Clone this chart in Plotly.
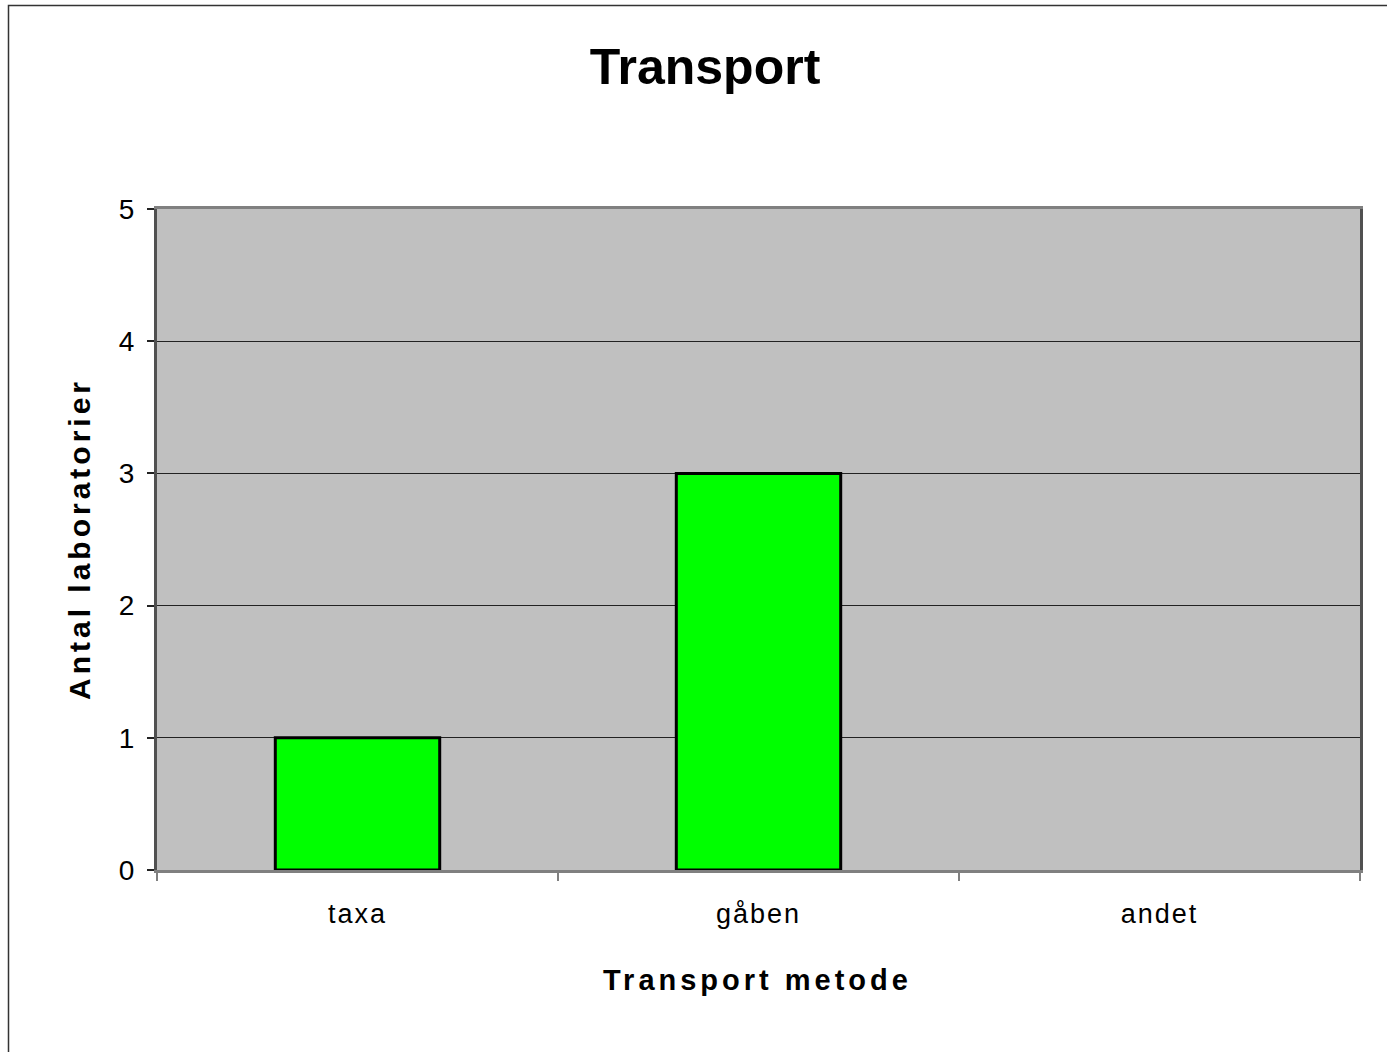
import plotly.graph_objects as go

categories = ["taxa", "gåben", "andet"]
values = [1, 3, 0]
y_ticks = [0, 1, 2, 3, 4, 5]

title_text = "Transport"
x_title = "Transport metode"
y_title = "Antal laboratorier"

FONT = "Arial, 'Liberation Sans', sans-serif"
W, H = 1387, 1052
L, R, T, B = 157, 27, 209, 182
pw, ph = W - L - R, H - T - B

def px_x(p):
    return (p - L) / pw

def px_y(p):
    return (H - B - p) / ph

fig = go.Figure()
fig.add_trace(go.Bar(
    x=categories, y=values, width=0.41,
    marker=dict(color="#00FF00",
                line=dict(color="black", width=[3 if v else 0 for v in values])),
    hoverinfo="x+y",
))

fig.update_layout(
    width=W, height=H,
    margin=dict(l=L, r=R, t=T, b=B),
    paper_bgcolor="white",
    plot_bgcolor="#C0C0C0",
    showlegend=False,
    font=dict(family=FONT, color="black"),
    title=dict(text="<b>" + title_text + "</b>", font=dict(size=50, family=FONT, color="black"),
               x=705 / W, xref="container", xanchor="center",
               y=1 - 66 / H, yref="container", yanchor="middle"),
    xaxis=dict(
        type="category",
        tickmode="array", tickvals=categories,
        ticktext=['<span style="letter-spacing:2px">' + c + "</span>" for c in categories],
        tickfont=dict(size=27, family=FONT, color="black"),
        ticks="outside", ticklen=8, tickwidth=2, tickcolor="#808080",
        tickson="boundaries",
        ticklabelstandoff=18,
        showline=True, linecolor="#808080", linewidth=3, mirror=True,
        showgrid=False, zeroline=False,
    ),
    yaxis=dict(
        range=[0, 5], tickvals=y_ticks,
        tickfont=dict(size=28, family=FONT, color="black"),
        ticks="outside", ticklen=7, tickwidth=1.5, tickcolor="#222",
        ticklabelstandoff=7,
        showline=True, linecolor="#505050", linewidth=3, mirror=True,
        showgrid=True, gridcolor="#222", gridwidth=1,
        zeroline=False,
    ),
)

fig.add_annotation(
    text='<span style="letter-spacing:4px"><b>' + y_title + "</b></span>",
    xref="paper", yref="paper", x=px_x(79), y=px_y(539),
    xanchor="center", yanchor="middle", textangle=-90, showarrow=False,
    font=dict(size=30, family=FONT, color="black"),
)
fig.add_annotation(
    text='<span style="letter-spacing:4px"><b>' + x_title + "</b></span>",
    xref="paper", yref="paper", x=px_x(757), y=px_y(980),
    xanchor="center", yanchor="middle", showarrow=False,
    font=dict(size=29, family=FONT, color="black"),
)

# outer chart border
fig.add_shape(type="rect", xref="paper", yref="paper",
              x0=px_x(8.5), x1=px_x(W + 10), y0=px_y(H + 10), y1=px_y(5.5),
              line=dict(color="#333", width=1.5), fillcolor="rgba(0,0,0,0)", layer="below")

fig.write_html("out.html",
               config={"displayModeBar": False},
               post_script="document.body.style.margin='0';document.body.style.padding='0';")
